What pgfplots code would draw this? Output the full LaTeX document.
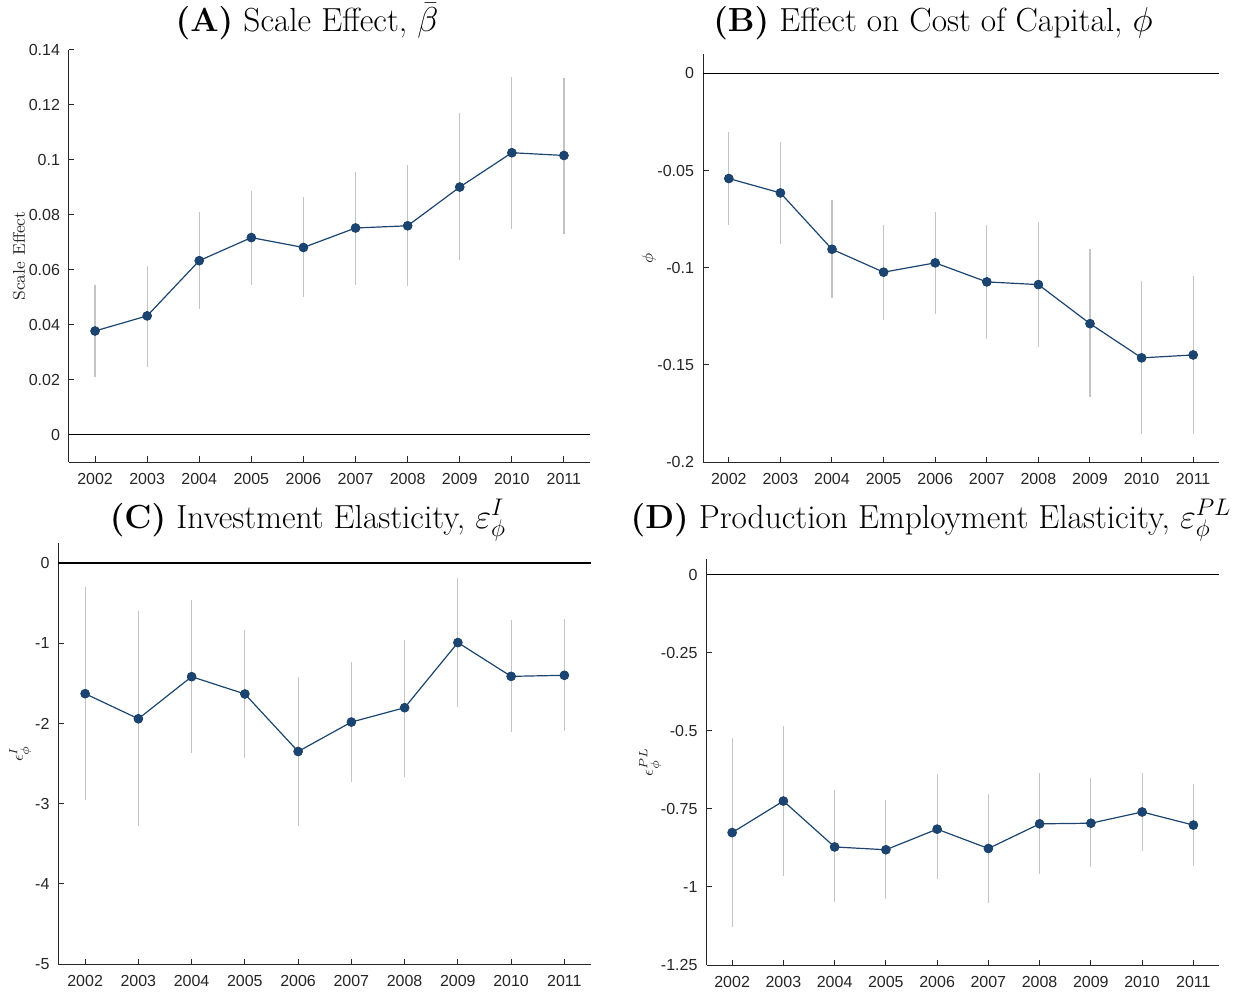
\documentclass[border=0pt]{standalone}
\usepackage{fontspec}
\setsansfont{Liberation Sans}
\usepackage{pgfplots}
\pgfplotsset{compat=1.18}
\usepackage{pgfplotstable}

\definecolor{estblue}{RGB}{27,68,112}
\definecolor{cigray}{RGB}{196,196,196}
\definecolor{axgray}{RGB}{38,38,38}

% year, point estimate, lower and upper bound
\pgfplotstableread{
year est lo hi
2002 0.0377 0.0210 0.0543
2003 0.0432 0.0247 0.0612
2004 0.0633 0.0457 0.0809
2005 0.0717 0.0544 0.0888
2006 0.0681 0.0499 0.0866
2007 0.0752 0.0545 0.0956
2008 0.0760 0.0539 0.0983
2009 0.0901 0.0636 0.1169
2010 0.1026 0.0748 0.1300
2011 0.1016 0.0731 0.1297
}\scaletab

\pgfplotstableread{
year est lo hi
2002 -0.0541 -0.0778 -0.0302
2003 -0.0615 -0.0876 -0.0354
2004 -0.0905 -0.1155 -0.0654
2005 -0.1023 -0.1270 -0.0778
2006 -0.0975 -0.1236 -0.0711
2007 -0.1073 -0.1367 -0.0781
2008 -0.1087 -0.1406 -0.0767
2009 -0.1288 -0.1667 -0.0906
2010 -0.1464 -0.1856 -0.1069
2011 -0.1449 -0.1854 -0.1043
}\phitab

\pgfplotstableread{
year est lo hi
2002 -1.629 -2.950 -0.304
2003 -1.942 -3.283 -0.604
2004 -1.417 -2.363 -0.467
2005 -1.633 -2.433 -0.829
2006 -2.350 -3.279 -1.417
2007 -1.983 -2.725 -1.229
2008 -1.804 -2.663 -0.954
2009 -0.992 -1.800 -0.183
2010 -1.413 -2.113 -0.708
2011 -1.400 -2.100 -0.700
}\invtab

\pgfplotstableread{
year est lo hi
2002 -0.826 -1.128 -0.5235
2003 -0.725 -0.965 -0.485
2004 -0.872 -1.049 -0.691
2005 -0.881 -1.039 -0.722
2006 -0.815 -0.976 -0.640
2007 -0.877 -1.050 -0.703
2008 -0.798 -0.960 -0.634
2009 -0.796 -0.937 -0.652
2010 -0.760 -0.885 -0.634
2011 -0.802 -0.933 -0.671
}\emptab

\pgfplotsset{
  panel/.style={
    scale only axis,
    axis x line*=bottom, axis y line*=left,
    axis line style={axgray, line width=0.5pt, -},
    xmin=2001.5, xmax=2011.5,
    xtick={2002,...,2011},
    tick align=inside,
    major tick length=2.75pt,
    tick style={axgray, line width=0.5pt},
    ticklabel style={font=\fontsize{8}{9}\sffamily, text=axgray},
    /pgf/number format/assume math mode=true,
    /pgf/number format/1000 sep={},
    scaled ticks=false,
    yticklabel={\pgfmathprintnumber[fixed,precision=2]{\tick}},
    xticklabel style={yshift=-2pt},
    yticklabel style={xshift=-1pt},
    ylabel style={font=\fontsize{8.5}{10}\selectfont, text=axgray, anchor=center},
    clip=false,
  },
  cibars/.style={forget plot, only marks, mark=none,
    error bars/.cd, y dir=both, y explicit, error mark=none,
    error bar style={cigray, line width=0.6pt, solid}},
  estline/.style={estblue, line width=0.6pt, mark=*, mark size=2.1pt,
    mark options={fill=estblue, draw=estblue, solid}},
}

\newcommand{\ci}[1]{%
  \addplot[cibars] table[x=year, y=est,
    y error plus expr=\thisrow{hi}-\thisrow{est},
    y error minus expr=\thisrow{est}-\thisrow{lo}] {#1};
  \addplot[black, line width=0.6pt, forget plot] coordinates {(2001.5,0) (2011.5,0)};
  \addplot[estline] table[x=year, y=est] {#1};
}

\begin{document}
\begin{tikzpicture}
\useasboundingbox (0,0) rectangle (623.5pt,496pt);

% (A)
\begin{axis}[panel, at={(34.5pt,265pt)}, anchor=south west,
  width=260.5pt, height=206pt,
  ymin=-0.01, ymax=0.14, ytick={0,0.02,...,0.14},
  ylabel={Scale Effect},
  ylabel style={at={(axis description cs:-0.096,0.5)}}]
\ci{\scaletab}
\end{axis}

% (B)
\begin{axis}[panel, at={(351.5pt,265pt)}, anchor=south west,
  width=258pt, height=204pt,
  ymin=-0.2, ymax=0.01, ytick={-0.2,-0.15,-0.1,-0.05,0},
  ylabel={$\phi$},
  ylabel style={at={(axis description cs:-0.105,0.5)}}]
\ci{\phitab}
\end{axis}

% (C)
\begin{axis}[panel, at={(29.25pt,14pt)}, anchor=south west,
  width=266.25pt, height=210.5pt,
  ymin=-5, ymax=0.25, ytick={-5,-4,...,0},
  ylabel={$\epsilon^{I}_{\phi}$},
  ylabel style={at={(axis description cs:-0.072,0.5)}}]
\ci{\invtab}
\end{axis}

% (D)
\begin{axis}[panel, at={(353.25pt,13.5pt)}, anchor=south west,
  width=256.25pt, height=203pt,
  ymin=-1.25, ymax=0.05, ytick={-1.25,-1,-0.75,-0.5,-0.25,0},
  ylabel={$\epsilon^{PL}_{\phi}$},
  ylabel style={at={(axis description cs:-0.110,0.5)}}]
\ci{\emptab}
\end{axis}

% panel titles
\begin{scope}[every node/.style={anchor=base, inner sep=0pt, font=\fontsize{16.7}{19}\selectfont}]
\node at (153.5pt,480pt) {\textbf{(A)} Scale Effect, $\bar{\beta}$};
\node at (466.5pt,480pt) {\textbf{(B)} Effect on Cost of Capital, $\phi$};
\node at (154pt,232pt) {\textbf{(C)} Investment Elasticity, $\varepsilon^{I}_{\phi}$};
\node at (465.5pt,232pt) {\textbf{(D)} Production Employment Elasticity, $\varepsilon^{PL}_{\phi}$};
\end{scope}
\end{tikzpicture}
\end{document}
